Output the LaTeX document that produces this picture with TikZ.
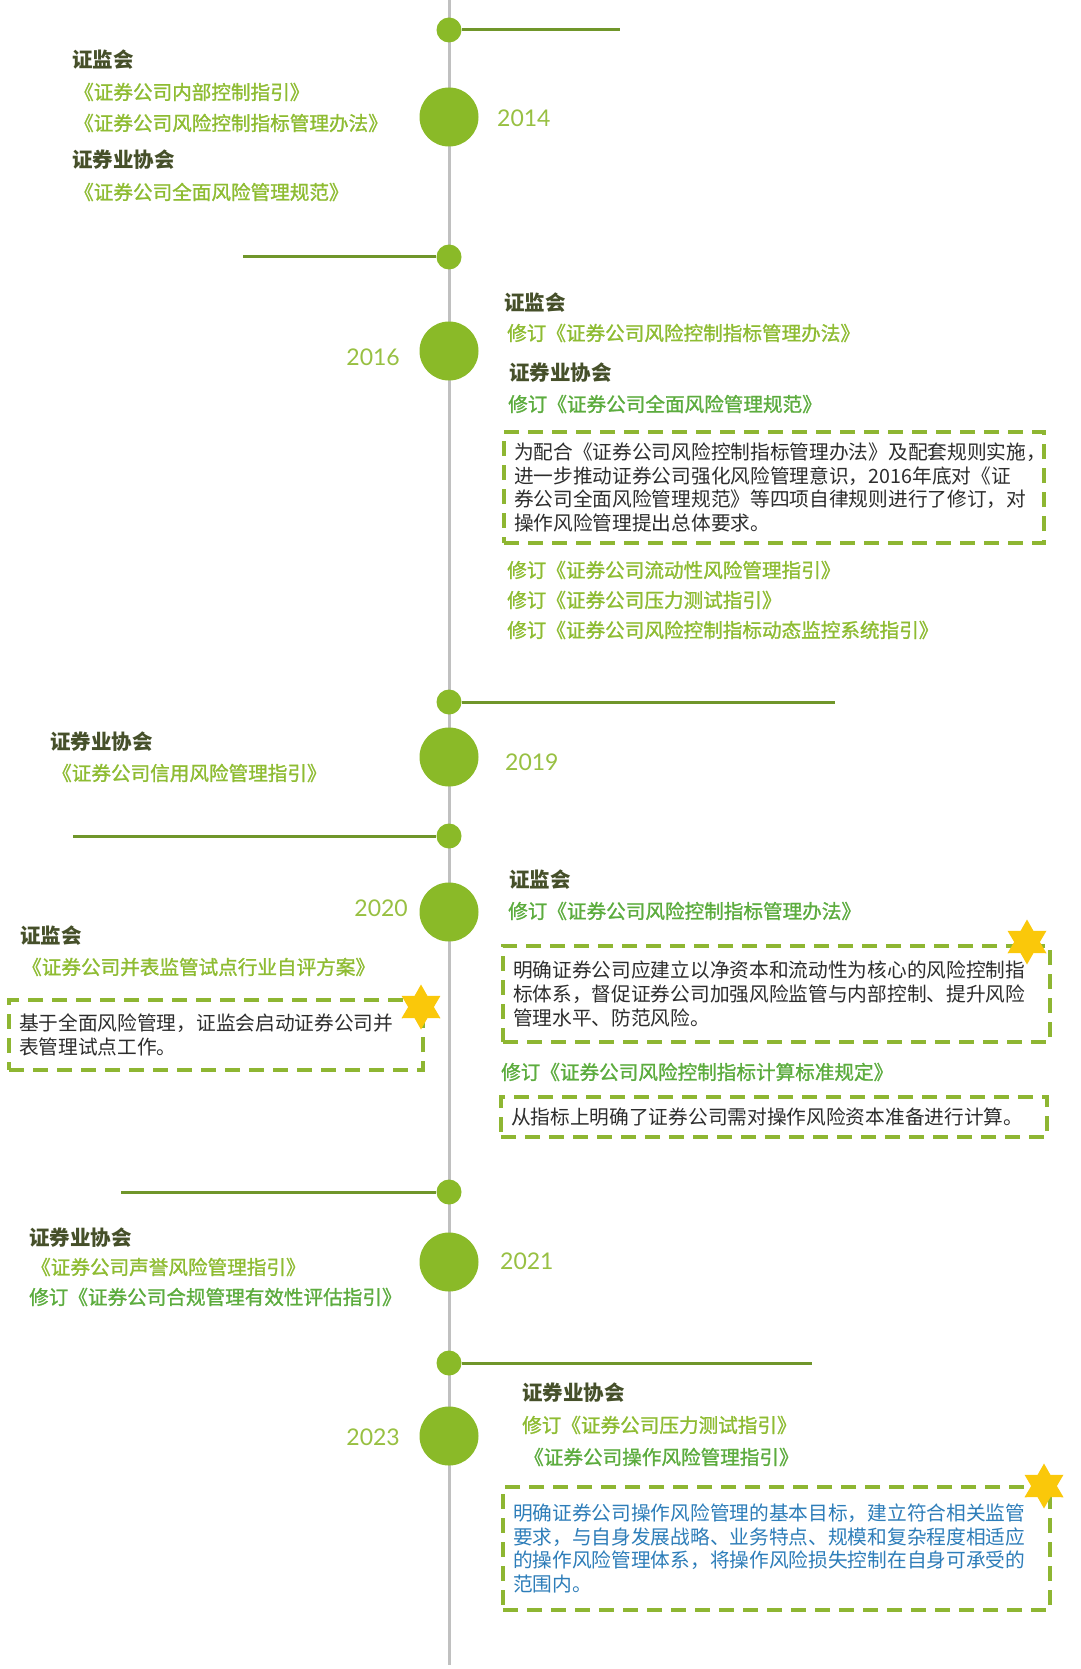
\documentclass[tikz,border=0pt]{standalone}
\usepackage{fontspec}
\setmainfont{Noto Sans CJK SC}
\newfontfamily\lawfont{Noto Sans CJK SC}[FakeBold=1.2]
\newfontfamily\yearfont{Lato}
\usetikzlibrary{shapes.geometric}

\definecolor{spinegray}{RGB}{192,192,192}
\definecolor{dotgreen}{RGB}{138,186,40}
\definecolor{branchgreen}{RGB}{112,150,42}
\definecolor{yeargreen}{RGB}{152,192,66}
\definecolor{orgdark}{RGB}{70,80,42}
\definecolor{lawlime}{RGB}{142,188,50}
\definecolor{lawgreen}{RGB}{92,172,62}
\definecolor{boxgreen}{RGB}{142,182,50}
\definecolor{notegray}{RGB}{45,45,45}
\definecolor{noteblue}{RGB}{45,125,185}
\definecolor{staryellow}{RGB}{250,200,10}

\tikzset{
  smalldot/.style={circle, fill=dotgreen, minimum size=25pt, inner sep=0pt},
  bigdot/.style={circle, fill=dotgreen, minimum size=59pt, inner sep=0pt},
  branch/.style={draw=branchgreen, line width=3pt},
  yearlabel/.style={font=\yearfont\fontsize{23}{23}\selectfont, text=yeargreen, inner sep=0pt},
  org/.style={font=\bfseries\fontsize{20.5}{20.5}\selectfont, text=orgdark, anchor=west, inner sep=0pt},
  lawname/.style={font=\lawfont\fontsize{19.6}{19.6}\selectfont, text=lawlime, anchor=west, inner sep=0pt},
  lawnew/.style={lawname, text=lawgreen},
  notebox/.style={draw=boxgreen, line width=3.5pt, dash pattern=on 15pt off 9pt,
                  inner xsep=10pt, inner ysep=0pt, align=left,
                  font=\fontsize{19.7}{23.8}\selectfont, text=notegray},
  badge/.style={star, star points=6, star point ratio=1.75, fill=staryellow,
                inner sep=0pt, minimum size=45pt},
}

\begin{document}
\begin{tikzpicture}[x=1pt, y=-1pt]
  \useasboundingbox (0,0) rectangle (1080,1669);
  \fill[white] (0,0) rectangle (1080,1669);

  % Spine
  \coordinate (top) at (449,0);
  \coordinate (bottom) at (449,1665);
  \draw[spinegray, line width=3pt] (top) -- (bottom);

  % Branch dots and lines
  \node[smalldot] (d1) at (449,30) {};
  \node[smalldot] (d2) at (449,257) {};
  \node[smalldot] (d3) at (449,702) {};
  \node[smalldot] (d4) at (449,836) {};
  \node[smalldot] (d5) at (449,1192) {};
  \node[smalldot] (d6) at (449,1363) {};
  \coordinate (e1) at (620,30);
  \coordinate (e2) at (243,257);
  \coordinate (e3) at (835,702);
  \coordinate (e4) at (73,836);
  \coordinate (e5) at (121,1192);
  \coordinate (e6) at (812,1363);
  \draw[branch] (d1.east) -- (e1);
  \draw[branch] (e2) -- (d2.west);
  \draw[branch] (d3.east) -- (e3);
  \draw[branch] (e4) -- (d4.west);
  \draw[branch] (e5) -- (d5.west);
  \draw[branch] (d6.east) -- (e6);

  % Year circles
  \node[bigdot] (c14) at (449,117) {};
  \node[bigdot] (c16) at (449,351) {};
  \node[bigdot] (c19) at (449,757) {};
  \node[bigdot] (c20) at (449,912) {};
  \node[bigdot] (c21) at (449,1262) {};
  \node[bigdot] (c23) at (449,1436) {};
  \node[yearlabel, anchor=west] (y14) at (497,118) {2014};
  \node[yearlabel, anchor=east] (y16) at (400,357) {2016};
  \node[yearlabel, anchor=west] (y19) at (505,762) {2019};
  \node[yearlabel, anchor=east] (y20) at (408,908) {2020};
  \node[yearlabel, anchor=west] (y21) at (500,1261) {2021};
  \node[yearlabel, anchor=east] (y23) at (400,1437) {2023};

  % 2014
  \node[org] (o14a) at (72,60) {证监会};
  \node[lawname] (l14a) at (74,92) {《证券公司内部控制指引》};
  \node[lawname] (l14b) at (74,123) {《证券公司风险控制指标管理办法》};
  \node[org] (o14b) at (72,160) {证券业协会};
  \node[lawname] (l14c) at (74,192) {《证券公司全面风险管理规范》};

  % 2016
  \node[org] (o16a) at (504,303) {证监会};
  \node[lawname] (l16a) at (507,333) {修订《证券公司风险控制指标管理办法》};
  \node[org] (o16b) at (509,373) {证券业协会};
  \node[lawnew] (l16b) at (508,404) {修订《证券公司全面风险管理规范》};
  \node[notebox, text width=520pt, minimum height=111pt] (n16) at (774,487.5)
    {为配合《证券公司风险控制指标管理办法》及配套规则实施，\\
     进一步推动证券公司强化风险管理意识，2016年底对《证\\
     券公司全面风险管理规范》等四项自律规则进行了修订，对\\
     操作风险管理提出总体要求。};
  \node[lawname] (l16c) at (507,570) {修订《证券公司流动性风险管理指引》};
  \node[lawname] (l16d) at (507,600) {修订《证券公司压力测试指引》};
  \node[lawname] (l16e) at (507,630) {修订《证券公司风险控制指标动态监控系统指引》};

  % 2019
  \node[org] (o19) at (50,742) {证券业协会};
  \node[lawname] (l19) at (52,773) {《证券公司信用风险管理指引》};

  % 2020
  \node[org] (o20a) at (509,880) {证监会};
  \node[lawnew] (l20a) at (508,911) {修订《证券公司风险控制指标管理办法》};
  \node[notebox, text width=527pt, minimum height=96pt] (n20a) at (776.5,994)
    {明确证券公司应建立以净资本和流动性为核心的风险控制指\\
     标体系，督促证券公司加强风险监管与内部控制、提升风险\\
     管理水平、防范风险。};
  \node[lawnew] (l20b) at (501,1072) {修订《证券公司风险控制指标计算标准规定》};
  \node[notebox, text width=526pt, minimum height=40pt] (n20b) at (774,1117)
    {从指标上明确了证券公司需对操作风险资本准备进行计算。};
  \node[org] (o20b) at (20,936) {证监会};
  \node[lawname] (l20c) at (22,967) {《证券公司并表监管试点行业自评方案》};
  \node[notebox, text width=394pt, minimum height=70pt] (n20c) at (216,1035)
    {基于全面风险管理，证监会启动证券公司并\\
     表管理试点工作。};
  \node[badge] (s20c) at (421,1007) {};
  \node[badge] (s20a) at (1027,942) {};

  % 2021
  \node[org] (o21) at (29,1238) {证券业协会};
  \node[lawname] (l21a) at (31,1267) {《证券公司声誉风险管理指引》};
  \node[lawnew] (l21b) at (29,1297) {修订《证券公司合规管理有效性评估指引》};

  % 2023
  \node[org] (o23) at (522,1393) {证券业协会};
  \node[lawname] (l23a) at (522,1425) {修订《证券公司压力测试指引》};
  \node[lawnew] (l23b) at (524,1457) {《证券公司操作风险管理指引》};
  \node[notebox, text=noteblue, text width=527pt, minimum height=123pt] (n23) at (776.5,1548.5)
    {明确证券公司操作风险管理的基本目标，建立符合相关监管\\
     要求，与自身发展战略、业务特点、规模和复杂程度相适应\\
     的操作风险管理体系，将操作风险损失控制在自身可承受的\\
     范围内。};
  \node[badge] (s23) at (1044,1486) {};
\end{tikzpicture}
\end{document}
